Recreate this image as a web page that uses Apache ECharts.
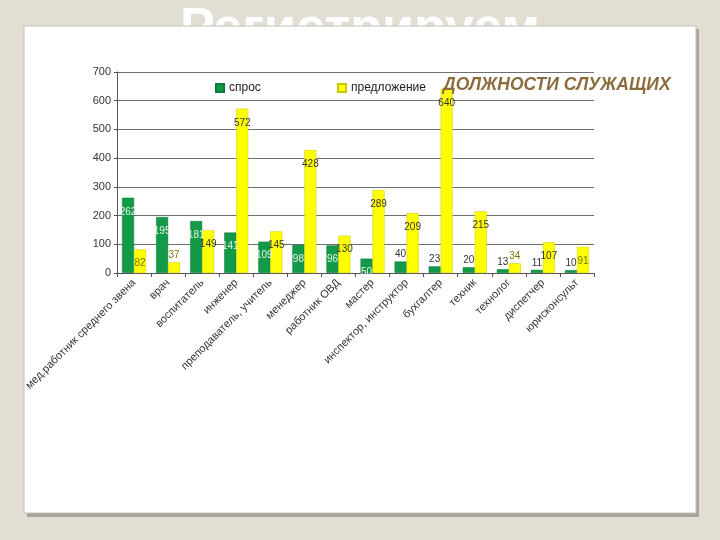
<!DOCTYPE html>
<html><head><meta charset="utf-8">
<script src="https://cdn.jsdelivr.net/npm/echarts@6/dist/echarts.min.js"></script>
<style>html,body{margin:0;padding:0;background:#e3ded4;}#c{width:720px;height:540px;}</style>
</head><body><div id="c"></div>
<script>
var categories = ['мед.работник среднего звена','врач','воспитатель','инженер','преподаватель, учитель','менеджер','работник ОВД','мастер','инспектор, инструктор','бухгалтер','техник','технолог','диспетчер','юрисконсульт'];
var demand = [262, 195, 181, 141, 109, 98, 96, 50, 40, 23, 20, 13, 11, 10];
var supply = [82, 37, 149, 572, 145, 428, 130, 289, 209, 640, 215, 34, 107, 91];
var yTicks = [0, 100, 200, 300, 400, 500, 600, 700];

var chart = echarts.init(document.getElementById('c'));
function demandItem(v){
  var inside = v >= 50;
  return {value: v, label: {show: true, position: inside ? 'insideTop' : 'top', distance: inside ? 9 : 2,
    color: inside ? '#e8f5e8' : '#333', fontSize: 10, fontFamily: 'Arial'}};
}
function supplyItem(v){
  var inside = v >= 50;
  return {value: v, label: {show: true, position: inside ? 'insideTop' : 'top', distance: inside ? 9 : 2,
    color: v > 100 ? '#333' : '#7a7a00', fontSize: 10, fontFamily: 'Arial'}};
}
chart.setOption({
  backgroundColor: '#e3ded4',
  animation: false,
  graphic: [
    {type: 'text', left: 'center', top: 4, z: -30, style: {text: 'Регистрируем', fill: '#ffffff', font: 'bold 52px Arial'}},
    {type: 'rect', shape: {x: 27, y: 29, width: 672, height: 488}, z: -20, style: {fill: '#a9a49a'}},
    {type: 'rect', shape: {x: 24, y: 26, width: 672, height: 487}, z: -10, style: {fill: '#ffffff', stroke: '#c4c0b8', lineWidth: 1}},
    {type: 'text', left: 443, top: 76, z: 10, style: {text: 'ДОЛЖНОСТИ СЛУЖАЩИХ', fill: '#8b6c3c', font: 'italic bold 17.5px Arial'}}
  ],
  legend: [
    {data: ['спрос'], left: 210, top: 77, itemWidth: 8, itemHeight: 8, icon: 'rect', itemGap: 4,
      textStyle: {fontSize: 12, color: '#222', fontFamily: 'Arial'}},
    {data: ['предложение'], left: 332, top: 77, itemWidth: 8, itemHeight: 8, icon: 'rect', itemGap: 4,
      textStyle: {fontSize: 12, color: '#222', fontFamily: 'Arial'}}
  ],
  grid: {left: 117, right: 126, top: 72, bottom: 267, containLabel: false},
  xAxis: {
    type: 'category', data: categories,
    axisLine: {lineStyle: {color: '#555'}},
    axisTick: {show: true, length: 4, lineStyle: {color: '#555'}},
    axisLabel: {rotate: 45, fontSize: 11, color: '#333', fontFamily: 'Arial', interval: 0, margin: 8}
  },
  yAxis: {
    type: 'value', min: yTicks[0], max: yTicks[yTicks.length - 1], interval: 100,
    axisLine: {show: true, lineStyle: {color: '#555'}},
    axisTick: {show: true, length: 3, lineStyle: {color: '#555'}},
    axisLabel: {fontSize: 11, color: '#333', fontFamily: 'Arial', margin: 6},
    splitLine: {lineStyle: {color: '#6f6f6f', width: 1}}
  },
  series: [
    {name: 'спрос', type: 'bar', barWidth: 12, barGap: '0%', data: demand.map(demandItem),
      itemStyle: {color: '#129a49', borderColor: '#0d7a38', borderWidth: 0.5}},
    {name: 'предложение', type: 'bar', barWidth: 12, data: supply.map(supplyItem),
      itemStyle: {color: '#ffff00', borderColor: '#c9c900', borderWidth: 0.5}}
  ]
});
</script></body></html>
